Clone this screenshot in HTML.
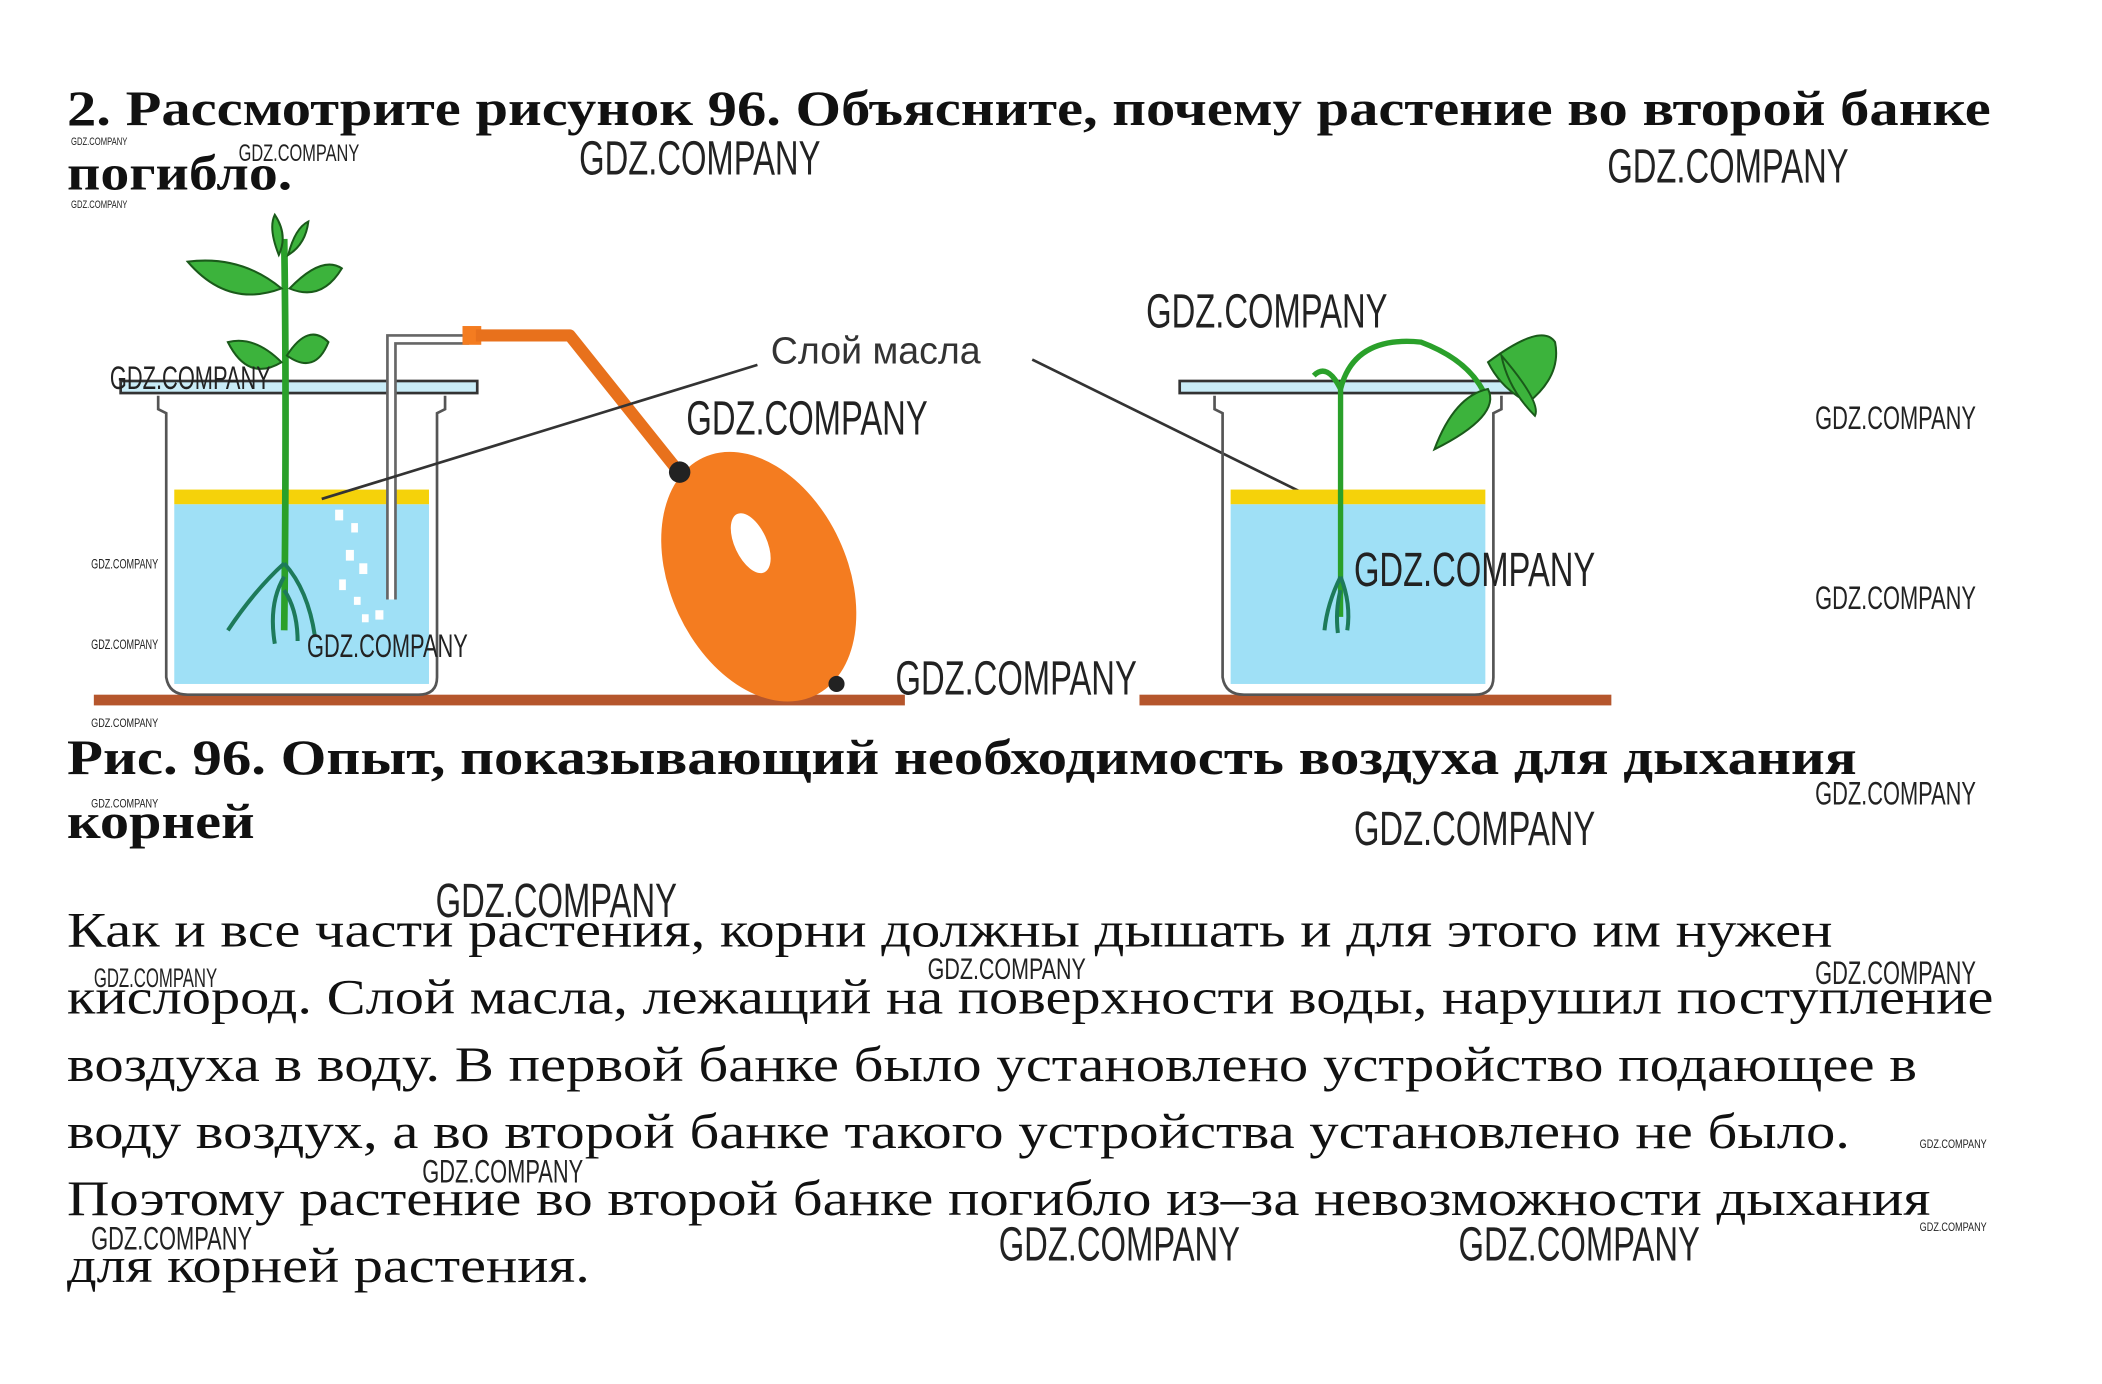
<!DOCTYPE html>
<html><head><meta charset="utf-8"><style>
html,body{margin:0;padding:0;background:#fff;}
svg{display:block;}
.t{font-family:"Liberation Serif",serif;font-weight:bold;font-size:37px;fill:#111;}
.b{font-family:"Liberation Serif",serif;font-size:37px;fill:#111;}
.w{font-family:"Liberation Sans",sans-serif;fill:#222;}
</style></head><body>
<svg width="2102" height="1384" viewBox="0 0 1568 1032" xmlns="http://www.w3.org/2000/svg">
<rect width="1568" height="1032" fill="#fff"/>
<text class="t" x="50" y="93" textLength="1435" lengthAdjust="spacingAndGlyphs">2. Рассмотрите рисунок 96. Объясните, почему растение во второй банке</text>
<text class="t" x="50" y="141" textLength="168" lengthAdjust="spacingAndGlyphs">погибло.</text>

<!-- figure -->
<rect x="70" y="518" width="605" height="8" fill="#b5562c"/>
<rect x="850" y="518" width="352" height="8" fill="#b5562c"/>
<!-- left beaker -->
<rect x="130" y="365" width="190" height="11" fill="#f5d20a"/>
<rect x="130" y="376" width="190" height="134" fill="#9fe0f6"/>
<path d="M118,295 L118,305 L124,308 L124,505 Q126,518 140,518 L312,518 Q326,518 326,505 L326,308 L332,305 L332,295" fill="none" stroke="#555" stroke-width="2"/>
<rect x="90" y="284" width="266" height="9" fill="#c9ecf7" stroke="#333" stroke-width="2"/>
<!-- tube -->
<path d="M292,447 L292,253 L350,253" fill="none" stroke="#666" stroke-width="8"/>
<path d="M292,447 L292,253 L350,253" fill="none" stroke="#fff" stroke-width="4"/>
<rect x="345" y="243" width="14" height="14" fill="#f47c20"/>
<path d="M355,250 L425,250 L505,350" fill="none" stroke="#e8711c" stroke-width="9" stroke-linejoin="round"/>
<ellipse cx="566" cy="430" rx="66" ry="98" transform="rotate(-25 566 430)" fill="#f47c20"/>
<ellipse cx="560" cy="405" rx="12" ry="24" transform="rotate(-25 560 405)" fill="#fff"/>
<circle cx="507" cy="352" r="8" fill="#222"/>
<circle cx="624" cy="510" r="6" fill="#222"/>
<!-- bubbles -->
<g fill="#fff"><rect x="250" y="380" width="6" height="8"/><rect x="262" y="390" width="5" height="7"/><rect x="258" y="410" width="6" height="8"/><rect x="268" y="420" width="6" height="8"/><rect x="253" y="432" width="5" height="8"/><rect x="264" y="445" width="5" height="6"/><rect x="280" y="455" width="6" height="7"/><rect x="270" y="458" width="5" height="6"/></g>
<!-- left plant -->
<path d="M212,178 Q214,300 212,470" stroke="#2aa02a" stroke-width="5" fill="none"/>
<path d="M212,420 Q190,440 170,470 M212,420 Q230,440 235,475 M212,430 Q200,450 205,480 M212,440 Q222,455 222,478" stroke="#1d7a5a" stroke-width="3" fill="none"/>
<g fill="#3cb33c" stroke="#1a5a1a" stroke-width="1.5">
<path d="M210,215 Q180,190 140,195 Q170,230 210,215Z"/>
<path d="M216,215 Q240,190 255,200 Q240,225 216,215Z"/>
<path d="M208,190 Q200,170 205,160 Q215,175 208,190Z"/>
<path d="M215,190 Q220,170 230,165 Q228,182 215,190Z"/>
<path d="M210,270 Q190,250 170,255 Q185,285 210,270Z"/>
<path d="M214,265 Q230,240 245,255 Q235,280 214,265Z"/>
</g>
<!-- labels -->
<text x="575" y="271" font-family="Liberation Sans,sans-serif" font-size="28" fill="#333">Слой масла</text>
<line x1="565" y1="272" x2="240" y2="372" stroke="#333" stroke-width="2"/>
<line x1="770" y1="268" x2="977" y2="370" stroke="#333" stroke-width="2"/>
<!-- right beaker -->
<rect x="918" y="365" width="190" height="11" fill="#f5d20a"/>
<rect x="918" y="376" width="190" height="134" fill="#9fe0f6"/>
<path d="M906,295 L906,305 L912,308 L912,505 Q914,518 928,518 L1100,518 Q1114,518 1114,505 L1114,308 L1120,305 L1120,295" fill="none" stroke="#555" stroke-width="2"/>
<rect x="880" y="284" width="266" height="9" fill="#c9ecf7" stroke="#333" stroke-width="2"/>
<path d="M1000,460 Q1000,330 1000,290 Q990,270 980,280 M1000,290 Q1010,250 1060,255 Q1100,270 1110,300" stroke="#2aa02a" stroke-width="4" fill="none"/>
<path d="M1000,430 Q990,450 988,470 M1000,430 Q1008,450 1005,470 M1000,440 Q996,455 998,472" stroke="#1d7a5a" stroke-width="3" fill="none"/>
<g fill="#3cb33c" stroke="#1a5a1a" stroke-width="1.5">
<path d="M1110,290 Q1120,310 1070,335 Q1085,295 1110,290Z"/>
<path d="M1110,270 Q1150,240 1160,255 Q1165,280 1140,300 Q1120,290 1110,270Z"/>
<path d="M1120,265 Q1150,300 1145,310 Q1125,290 1120,265Z"/>
</g>

<text class="t" x="50" y="577" textLength="1335" lengthAdjust="spacingAndGlyphs">Рис. 96. Опыт, показывающий необходимость воздуха для дыхания</text>
<text class="t" x="50" y="625" textLength="140" lengthAdjust="spacingAndGlyphs">корней</text>

<text class="b" x="50" y="706" textLength="1317" lengthAdjust="spacingAndGlyphs">Как и все части растения, корни должны дышать и для этого им нужен</text>
<text class="b" x="50" y="756" textLength="1437" lengthAdjust="spacingAndGlyphs">кислород. Слой масла, лежащий на поверхности воды, нарушил поступление</text>
<text class="b" x="50" y="806" textLength="1380" lengthAdjust="spacingAndGlyphs">воздуха в воду. В первой банке было установлено устройство подающее в</text>
<text class="b" x="50" y="856" textLength="1330" lengthAdjust="spacingAndGlyphs">воду воздух, а во второй банке такого устройства установлено не было.</text>
<text class="b" x="50" y="906" textLength="1390" lengthAdjust="spacingAndGlyphs">Поэтому растение во второй банке погибло из–за невозможности дыхания</text>
<text class="b" x="50" y="956" textLength="390" lengthAdjust="spacingAndGlyphs">для корней растения.</text>

<!-- watermarks -->
<g class="w">
<text x="432" y="130" font-size="36" textLength="180" lengthAdjust="spacingAndGlyphs">GDZ.COMPANY</text>
<text x="1199" y="136" font-size="36" textLength="180" lengthAdjust="spacingAndGlyphs">GDZ.COMPANY</text>
<text x="855" y="244" font-size="36" textLength="180" lengthAdjust="spacingAndGlyphs">GDZ.COMPANY</text>
<text x="512" y="324" font-size="36" textLength="180" lengthAdjust="spacingAndGlyphs">GDZ.COMPANY</text>
<text x="1010" y="437" font-size="36" textLength="180" lengthAdjust="spacingAndGlyphs">GDZ.COMPANY</text>
<text x="668" y="518" font-size="36" textLength="180" lengthAdjust="spacingAndGlyphs">GDZ.COMPANY</text>
<text x="1010" y="630" font-size="36" textLength="180" lengthAdjust="spacingAndGlyphs">GDZ.COMPANY</text>
<text x="325" y="684" font-size="36" textLength="180" lengthAdjust="spacingAndGlyphs">GDZ.COMPANY</text>
<text x="745" y="940" font-size="36" textLength="180" lengthAdjust="spacingAndGlyphs">GDZ.COMPANY</text>
<text x="1088" y="940" font-size="36" textLength="180" lengthAdjust="spacingAndGlyphs">GDZ.COMPANY</text>
<text x="82" y="290" font-size="24" textLength="120" lengthAdjust="spacingAndGlyphs">GDZ.COMPANY</text>
<text x="229" y="490" font-size="24" textLength="120" lengthAdjust="spacingAndGlyphs">GDZ.COMPANY</text>
<text x="178" y="120" font-size="18" textLength="90" lengthAdjust="spacingAndGlyphs">GDZ.COMPANY</text>
<text x="1354" y="320" font-size="24" textLength="120" lengthAdjust="spacingAndGlyphs">GDZ.COMPANY</text>
<text x="1354" y="454" font-size="24" textLength="120" lengthAdjust="spacingAndGlyphs">GDZ.COMPANY</text>
<text x="1354" y="600" font-size="24" textLength="120" lengthAdjust="spacingAndGlyphs">GDZ.COMPANY</text>
<text x="1354" y="734" font-size="24" textLength="120" lengthAdjust="spacingAndGlyphs">GDZ.COMPANY</text>
<text x="692" y="730" font-size="22" textLength="118" lengthAdjust="spacingAndGlyphs">GDZ.COMPANY</text>
<text x="70" y="736" font-size="20" textLength="92" lengthAdjust="spacingAndGlyphs">GDZ.COMPANY</text>
<text x="315" y="882" font-size="24" textLength="120" lengthAdjust="spacingAndGlyphs">GDZ.COMPANY</text>
<text x="68" y="932" font-size="24" textLength="120" lengthAdjust="spacingAndGlyphs">GDZ.COMPANY</text>
<text x="68" y="424" font-size="10" textLength="50" lengthAdjust="spacingAndGlyphs">GDZ.COMPANY</text>
<text x="68" y="484" font-size="10" textLength="50" lengthAdjust="spacingAndGlyphs">GDZ.COMPANY</text>
<text x="68" y="542" font-size="9" textLength="50" lengthAdjust="spacingAndGlyphs">GDZ.COMPANY</text>
<text x="68" y="602" font-size="9" textLength="50" lengthAdjust="spacingAndGlyphs">GDZ.COMPANY</text>
<text x="53" y="108" font-size="8" textLength="42" lengthAdjust="spacingAndGlyphs">GDZ.COMPANY</text>
<text x="53" y="155" font-size="8" textLength="42" lengthAdjust="spacingAndGlyphs">GDZ.COMPANY</text>
<text x="1432" y="856" font-size="9" textLength="50" lengthAdjust="spacingAndGlyphs">GDZ.COMPANY</text>
<text x="1432" y="918" font-size="9" textLength="50" lengthAdjust="spacingAndGlyphs">GDZ.COMPANY</text>
</g>
</svg>
</body></html>
